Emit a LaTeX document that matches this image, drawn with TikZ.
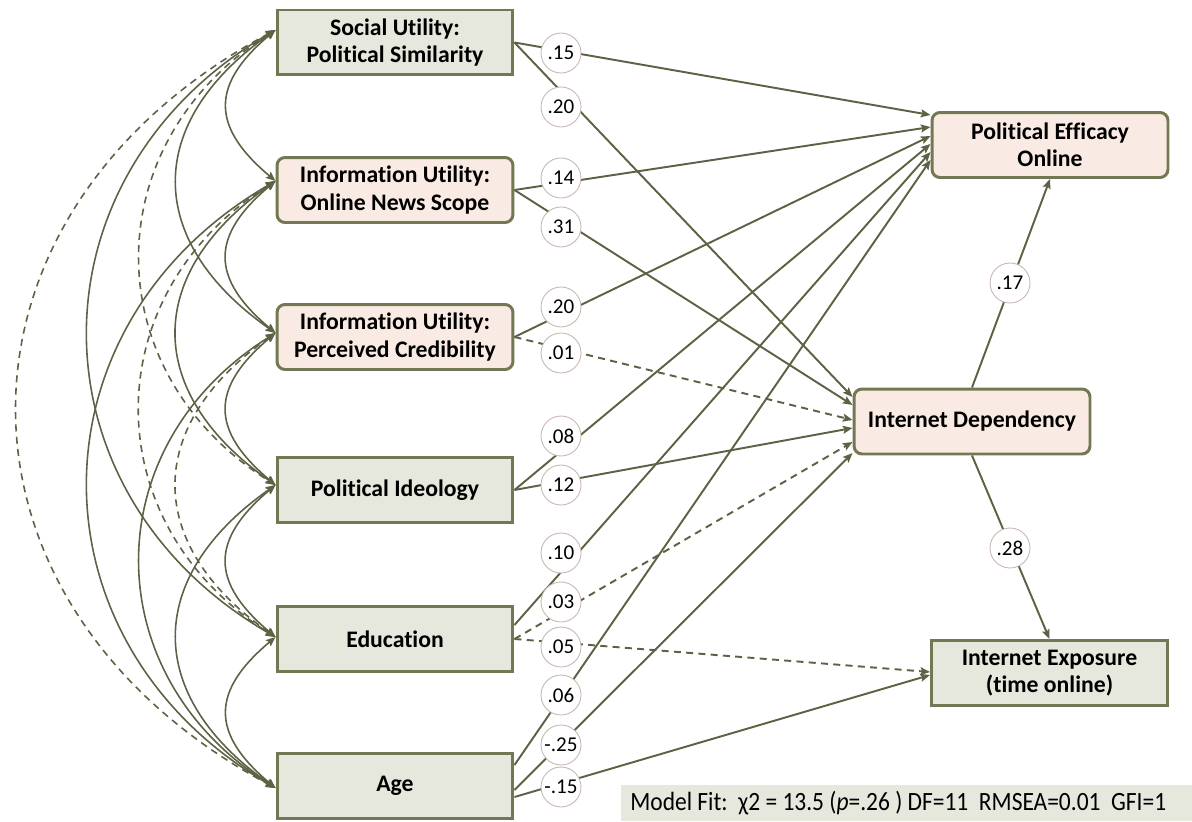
\documentclass[tikz,border=0pt]{standalone}
\usepackage{graphicx}
\usepackage{fontspec}
\setmainfont{Carlito}[Ligatures=NoCommon]
\usetikzlibrary{arrows.meta}

\definecolor{olive}{HTML}{5C6243}
\definecolor{boxline}{HTML}{737854}
\definecolor{grayfill}{HTML}{E6E7DD}
\definecolor{pinkfill}{HTML}{F9EBE3}
\definecolor{ringline}{HTML}{C9B6B1}

\tikzset{
  box/.style={draw=boxline, line width=1.7pt, minimum width=4.72cm, minimum height=1.3cm,
    align=center, inner sep=2pt, font=\fontsize{13.5}{15.5}\selectfont\bfseries},
  obs/.style={box, fill=grayfill},
  lat/.style={box, fill=pinkfill, rounded corners=0.16cm},
  wt/.style={circle, draw=ringline, line width=0.5pt, fill=white, minimum size=0.8cm,
    inner sep=0pt, font=\fontsize{12}{13}\selectfont},
  effect/.style={olive, line width=1.1pt, -{Stealth[length=5.5pt,width=4.5pt,inset=1pt]}},
  cov/.style={olive, line width=0.9pt,
    {Stealth[length=5.5pt,width=4.5pt,inset=1pt]}-{Stealth[length=5.5pt,width=4.5pt,inset=1pt]}},
  nonsig/.style={dash pattern=on 4pt off 3pt},
  span1/.style={out=220, in=140, looseness=1.44},
  span2/.style={out=215, in=145, looseness=1.36},
  span3/.style={out=212, in=148, looseness=1.2},
  span4/.style={out=210, in=150, looseness=1.22},
  span5/.style={out=208, in=152, looseness=1.32},
  fitbox/.style={fill=grayfill, minimum width=11.42cm, minimum height=0.72cm, inner sep=0pt},
}

\begin{document}
\begin{tikzpicture}[x=0.02cm, y=-0.02cm]
\useasboundingbox (0,0) rectangle (1192,821);
% exogenous variables
\node[obs] (soc) at (395,42.5) {Social Utility:\\Political Similarity};
\node[lat] (news) at (395,190) {Information Utility:\\Online News Scope};
\node[lat] (cred) at (395,337) {Information Utility:\\Perceived Credibility};
\node[obs] (ideo) at (395,490) {Political Ideology};
\node[obs] (edu) at (395,639) {Education};
\node[obs] (age) at (395,786) {Age};
% outcomes
\node[lat] (eff) at (1050,145) {Political Efficacy\\Online};
\node[lat] (dep) at (972,421.5) {Internet Dependency};
\node[obs] (expo) at (1049.5,673) {Internet Exposure\\(time online)};

% covariances
\foreach \n/\s in {soc/.25cm, news/.18cm, cred/.08cm, ideo/.1cm, edu/.04cm, age/-.04cm}
  \coordinate (\n-l) at ([yshift=\s]\n.west);
\foreach \a/\b/\s/\k in {soc/news/solid/1, news/cred/solid/1, cred/ideo/solid/1,
    ideo/edu/solid/1, edu/age/solid/1, soc/cred/solid/2, news/ideo/solid/2,
    cred/edu/nonsig/2, ideo/age/solid/2, soc/ideo/nonsig/3, news/edu/nonsig/3,
    cred/age/solid/3, soc/edu/solid/4, news/age/solid/4, soc/age/nonsig/5}
  \draw[cov,\s] (\a-l) to[span\k] (\b-l);

% paths
\draw[effect] (soc.east) -- ([yshift=.6cm]eff.west);
\draw[effect] (soc.east) -- ([yshift=.49cm]dep.west);
\draw[effect] (news.east) -- ([yshift=.36cm]eff.west);
\draw[effect] (news.east) -- ([yshift=.33cm]dep.west);
\draw[effect] (cred.east) -- ([yshift=.18cm]eff.west);
\draw[effect,nonsig] (cred.east) -- ([yshift=.03cm]dep.west);
\draw[effect] (ideo.east) -- ([yshift=.02cm]eff.west);
\draw[effect] (ideo.east) -- ([yshift=-.13cm]dep.west);
\draw[effect] ([yshift=.28cm]edu.east) -- ([yshift=-.14cm]eff.west);
\draw[effect,nonsig] (edu.east) -- ([yshift=-.41cm]dep.west);
\draw[effect,nonsig] (edu.east) -- ([yshift=.02cm]expo.west);
\draw[effect] ([yshift=.42cm]age.east) -- ([yshift=-.3cm]eff.west);
\draw[effect] ([yshift=-.08cm]age.east) -- ([yshift=-.63cm]dep.west);
\draw[effect] ([yshift=-.22cm]age.east) -- ([yshift=-.04cm]expo.west);
\draw[effect] (dep.north) -- (eff.south);
\draw[effect] (dep.south) -- (expo.north);

% weights
\foreach \y/\t in {53/.15, 107/.20, 178/.14, 227/.31, 307/.20, 353/.01, 436/.08,
    485/.12, 553/.10, 602/.03, 647/.05, 695/.06, 745/-.25, 787/-.15}
  \node[wt] (w\y) at (561,\y) {\t};
\node[wt] (wdeff) at (1010,283) {.17};
\node[wt] (wdexp) at (1010,548) {.28};

\node[fitbox, anchor=north west] (fitbg) at (621,785) {};
\node[anchor=west, inner sep=0pt, font=\fontsize{15}{17}\selectfont] (fit)
  at ([xshift=0.18cm]fitbg.west)
  {\resizebox{10.72cm}{\height}{Model Fit:\ \ χ2 = 13.5 (\textit{p}=.26 ) DF=11\ \ RMSEA=0.01\ \ GFI=1}};
\end{tikzpicture}
\end{document}
